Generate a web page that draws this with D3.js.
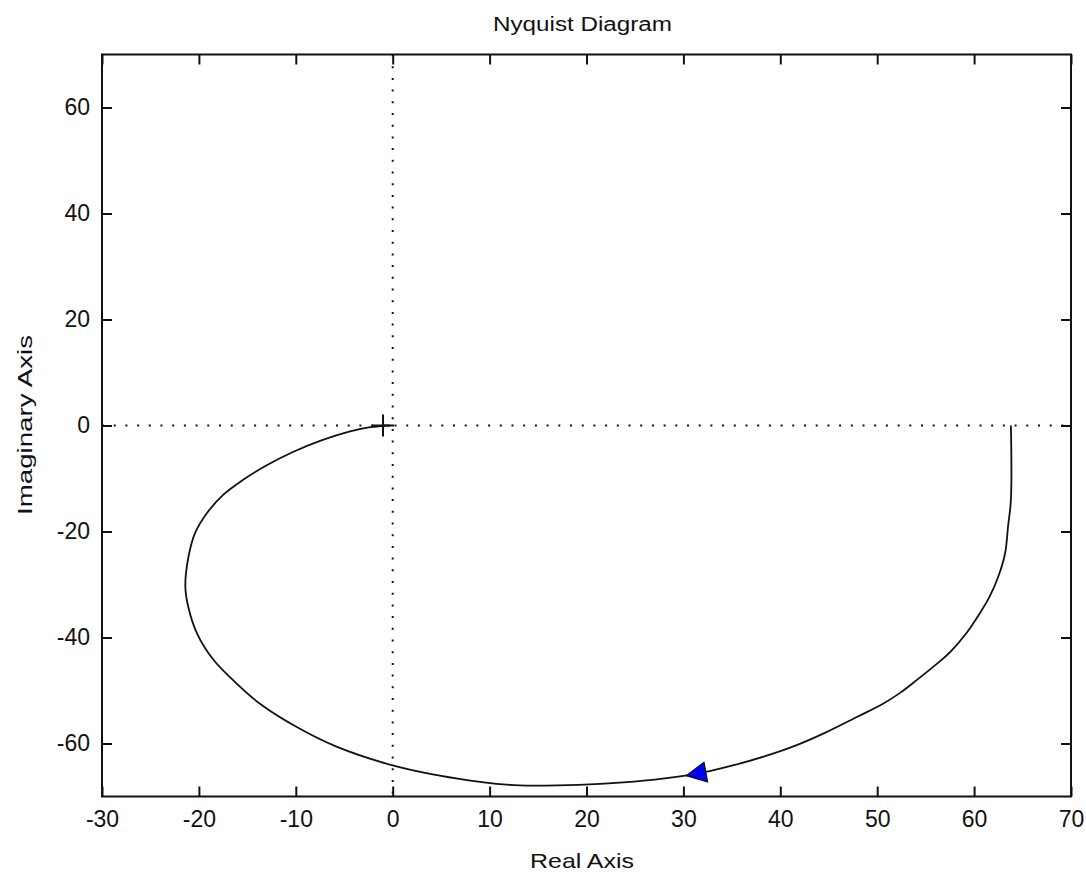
<!DOCTYPE html>
<html lang="en">
<head>
<meta charset="utf-8">
<title>Nyquist Diagram</title>
<style>
  body { margin: 0; background: #fff; }
  svg { display: block; }
  .tick text { font-family: "Liberation Sans", Arial, sans-serif; font-size: 23px; fill: #111; }
  .lbl { font-family: "Liberation Sans", Arial, sans-serif; font-size: 21px; fill: #111; text-anchor: middle; }
  .ttl { font-family: "Liberation Sans", Arial, sans-serif; font-size: 20px; fill: #111; text-anchor: middle; }
  .zero { stroke: #111; stroke-width: 2px; stroke-dasharray: 2 9.7; fill: none; }
</style>
</head>
<body>
<script src="https://cdn.jsdelivr.net/npm/d3@7/dist/d3.min.js"></script>
<script>
// tick values
var xTicks = [-30, -20, -10, 0, 10, 20, 30, 40, 50, 60, 70];
var yTicks = [-60, -40, -20, 0, 20, 40, 60];

// nyquist curve, positive frequencies
var realPart = [63.8, 63.8, 63.5, 63.2, 62.5, 61.6, 60.6, 59.2, 57.5, 55.8, 54.1, 52.4, 50.6, 47.9,
  44.6, 41.7, 38.6, 35.2, 32.7, 30.0, 25.9, 21.4, 17.0, 13.1, 10.7, 8.0, 4.0, -0.1, -5.8, -9.9,
  -13.7, -16.1, -18.5, -20.2, -21.1, -21.4, -21.1, -20.4, -19.2, -17.5, -15.4, -13.0, -10.3,
  -7.5, -4.4, -2.3, -0.3];
var imagPart = [0, -14.0, -19.1, -24.1, -28.5, -32.3, -35.4, -39.2, -42.8, -45.5, -48.0, -50.4, -52.5, -55.0,
  -58.0, -60.3, -62.3, -64.1, -65.2, -66.1, -67.0, -67.6, -67.9, -67.9, -67.6, -67.0, -65.8, -64.1, -60.6, -56.9,
  -52.5, -48.7, -44.2, -39.2, -34.2, -30.4, -25.0, -20.3, -16.6, -13.1, -10.2, -7.5, -5.0,
  -2.9, -1.1, -0.3, 0];

// direction arrow and critical point
var arrowPoint = [31.4, -65.7];
var criticalPoint = [-1, 0];

var W = 1086, H = 872;
var margin = { top: 54.5, right: 15, bottom: 75.5, left: 102 },
    width = W - margin.left - margin.right,
    height = H - margin.top - margin.bottom;

var svg = d3.select("body").append("svg")
    .attr("width", W)
    .attr("height", H);

var g = svg.append("g")
    .attr("transform", "translate(" + margin.left + "," + margin.top + ")");

var x = d3.scaleLinear().domain([-30, 70]).range([0, width]);
var y = d3.scaleLinear().domain([-70, 70]).range([height, 0]);

// zero lines (dotted)
g.append("line").attr("class", "zero")
    .attr("x1", 0).attr("x2", width)
    .attr("y1", y(0)).attr("y2", y(0));
g.append("line").attr("class", "zero")
    .attr("x1", x(0)).attr("x2", x(0))
    .attr("y1", 0).attr("y2", height);

// axes, ticks pointing inward on all four sides
var fmt = function(d) { return String(d); };

g.append("g").attr("transform", "translate(0," + height + ")")
    .call(d3.axisBottom(x).tickValues(xTicks).tickFormat(fmt).tickSizeInner(-10).tickSizeOuter(0).tickPadding(14));
g.append("g")
    .call(d3.axisTop(x).tickValues(xTicks).tickFormat("").tickSizeInner(-10).tickSizeOuter(0));
g.append("g")
    .call(d3.axisLeft(y).tickValues(yTicks).tickFormat(fmt).tickSizeInner(-10).tickSizeOuter(0).tickPadding(12));
g.append("g").attr("transform", "translate(" + width + ",0)")
    .call(d3.axisRight(y).tickValues(yTicks).tickFormat("").tickSizeInner(-10).tickSizeOuter(0));

g.selectAll(".domain").remove();
g.selectAll(".tick line").attr("stroke", "#111").attr("stroke-width", 2);

g.append("rect")
    .attr("width", width).attr("height", height)
    .attr("fill", "none").attr("stroke", "#111").attr("stroke-width", 2);

// curve
var pts = realPart.map(function(r, i) { return [r, imagPart[i]]; });
var line = d3.line()
    .x(function(d) { return x(d[0]); })
    .y(function(d) { return y(d[1]); })
    .curve(d3.curveCatmullRom);

g.append("path")
    .datum(pts)
    .attr("d", line)
    .attr("fill", "none")
    .attr("stroke", "#111")
    .attr("stroke-width", 1.8);

// critical point marker
g.append("path")
    .attr("transform", "translate(" + x(criticalPoint[0]) + "," + y(criticalPoint[1]) + ")")
    .attr("d", "M-11,0H11M0,-11V11")
    .attr("stroke", "#111").attr("stroke-width", 2);

// arrow, pointing the way the curve is travelled
var ang = Math.atan2(y(-66.1) - y(-65.2), x(30.0) - x(32.7)) * 180 / Math.PI;
g.append("path")
    .attr("transform", "translate(" + x(arrowPoint[0]) + "," + y(arrowPoint[1]) + ") rotate(" + ang + ")")
    .attr("d", "M11,0L-9,-10L-9,10Z")
    .attr("fill", "#0000ff").attr("stroke", "#111").attr("stroke-width", 1.2);

// labels
svg.append("text").attr("class", "ttl")
    .attr("x", 582.5).attr("y", 31)
    .attr("textLength", 179).attr("lengthAdjust", "spacingAndGlyphs")
    .text("Nyquist Diagram");
svg.append("text").attr("class", "lbl")
    .attr("x", 582).attr("y", 868)
    .attr("textLength", 104).attr("lengthAdjust", "spacingAndGlyphs")
    .text("Real Axis");
svg.append("text").attr("class", "lbl")
    .attr("transform", "translate(32,425) rotate(-90)")
    .attr("textLength", 180).attr("lengthAdjust", "spacingAndGlyphs")
    .text("Imaginary Axis");
</script>
</body>
</html>
